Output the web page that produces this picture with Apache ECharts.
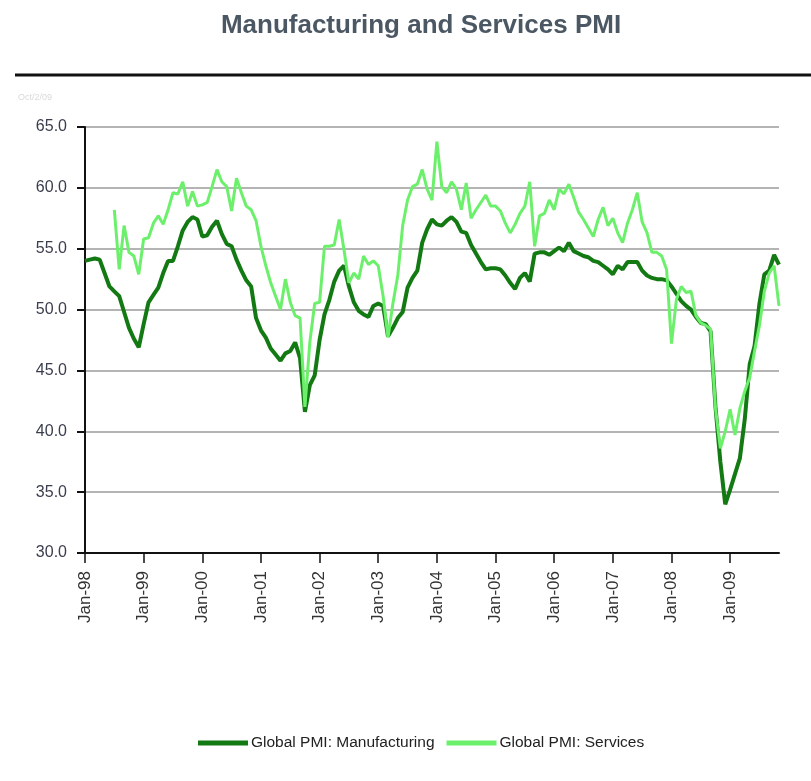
<!DOCTYPE html>
<html>
<head>
<meta charset="utf-8">
<script src="https://cdn.jsdelivr.net/npm/echarts@6/dist/echarts.min.js"></script>
<style>
html,body{margin:0;padding:0;background:#fff;}
#chart{width:811px;height:781px;}
</style>
</head>
<body>
<div id="chart"></div>
<script>
// month labels Jan-98 .. Nov-09
var years = ['98','99','00','01','02','03','04','05','06','07','08','09'];
var monthNames = ['Jan','Feb','Mar','Apr','May','Jun','Jul','Aug','Sep','Oct','Nov','Dec'];
var lastMonthCount = 11; // data stops in Nov-09

var manufacturing = [
	54.0,54.1,54.2,54.1,53.0,51.9,51.5,51.1,49.8,48.5,47.6,46.9,
	48.8,50.6,51.2,51.8,53.0,54.0,54.0,55.2,56.5,57.2,57.6,57.4,
	56.0,56.1,56.8,57.3,56.2,55.4,55.2,54.1,53.2,52.4,51.9,49.3,
	48.3,47.7,46.8,46.3,45.8,46.4,46.6,47.3,46.0,41.6,43.8,44.6,
	47.5,49.6,50.8,52.3,53.2,53.6,51.9,50.6,49.9,49.6,49.4,50.3,
	50.5,50.3,47.8,48.5,49.3,49.8,51.8,52.6,53.2,55.5,56.6,57.4,
	57.0,56.9,57.3,57.6,57.2,56.4,56.3,55.3,54.6,53.9,53.3,53.4,
	53.4,53.3,52.8,52.2,51.7,52.6,53.0,52.3,54.6,54.7,54.7,54.5,
	54.8,55.1,54.8,55.5,54.8,54.6,54.4,54.3,54.0,53.9,53.6,53.3,
	52.9,53.6,53.3,53.9,53.9,53.9,53.2,52.8,52.6,52.5,52.5,52.4,
	51.9,51.3,50.7,50.3,50.0,49.4,48.9,48.8,48.2,42.0,37.5,34.0,
	35.2,36.5,37.8,41.0,45.5,47.0,50.5,52.9,53.2,54.5,53.7
];

var services = [
	null,null,null,null,null,null,58.2,53.3,56.9,54.7,54.4,52.9,
	55.8,55.9,57.1,57.7,57.0,58.2,59.6,59.5,60.5,58.5,59.7,58.5,
	58.6,58.8,60.1,61.5,60.5,60.1,58.1,60.8,59.6,58.5,58.2,57.3,
	55.2,53.6,52.2,51.1,50.0,52.5,50.6,49.5,49.3,42.0,47.3,50.5,
	50.6,55.2,55.2,55.3,57.4,54.9,52.2,53.0,52.5,54.4,53.7,54.0,
	53.6,51.1,47.7,50.5,52.8,56.9,59.0,60.1,60.3,61.5,59.9,59.0,
	63.8,60.1,59.6,60.5,59.9,58.2,60.4,57.5,58.2,58.8,59.4,58.5,
	58.5,58.1,57.1,56.3,57.0,57.9,58.5,60.5,55.2,57.7,57.9,59.0,
	58.2,59.9,59.5,60.3,59.2,58.0,57.4,56.7,56.0,57.4,58.4,56.9,
	57.5,56.3,55.5,57.1,58.2,59.6,57.2,56.3,54.7,54.7,54.4,53.3,
	47.2,50.8,51.9,51.4,51.5,49.5,48.9,48.7,48.4,41.9,38.6,40.0,
	41.8,39.7,41.9,43.3,44.4,46.6,48.7,51.5,53.0,53.6,50.3
];

var yTicks = [30, 65, 5]; // min, max, step

var categories = [];
for (var y = 0; y < years.length; y++) {
	var n = (y === years.length - 1) ? lastMonthCount : 12;
	for (var m = 0; m < n; m++) {
		categories.push(monthNames[m] + '-' + years[y]);
	}
}

function isJan(idx) {
	return idx % 12 === 0;
}

var sans = '"Liberation Sans", Arial, sans-serif';

var myChart = echarts.init(document.getElementById('chart'));
var option = {
	backgroundColor: '#fff',
	animation: false,
	title: {
		text: 'Manufacturing and Services PMI',
		left: 416,
		textAlign: 'center',
		top: 8,
		textStyle: {
			fontFamily: sans,
			fontWeight: 'bold',
			fontSize: 26,
			color: '#4b5763'
		}
	},
	graphic: [
		{
			type: 'line',
			shape: {x1: 15, y1: 75, x2: 811, y2: 75},
			style: {stroke: '#111', lineWidth: 3}
		},
		{
			type: 'text',
			left: 18,
			top: 93,
			style: {text: 'Oct/2/09', fill: '#dadada', fontSize: 9, fontFamily: sans}
		}
	],
	legend: {
		bottom: 25,
		left: 193,
		itemWidth: 50,
		itemHeight: 5,
		itemGap: 12,
		icon: 'rect',
		textStyle: {
			fontFamily: sans,
			fontSize: 15.5,
			color: '#222',
			padding: [0, 0, 0, -2]
		},
		data: ['Global PMI: Manufacturing', 'Global PMI: Services']
	},
	grid: {
		left: 85,
		right: 32,
		top: 127,
		bottom: 228
	},
	xAxis: {
		type: 'category',
		data: categories,
		boundaryGap: false,
		axisLine: {lineStyle: {color: '#111', width: 2}},
		axisTick: {
			length: 10,
			interval: function (idx) { return isJan(idx); },
			lineStyle: {color: '#111', width: 1.5}
		},
		axisLabel: {
			rotate: 90,
			margin: 18,
			interval: function (idx) { return isJan(idx); },
			fontFamily: sans,
			fontSize: 17,
			color: '#333'
		},
		splitLine: {show: false}
	},
	yAxis: {
		type: 'value',
		min: yTicks[0],
		max: yTicks[1],
		interval: yTicks[2],
		axisLine: {show: true, lineStyle: {color: '#111', width: 2}},
		axisTick: {show: true, length: 8, lineStyle: {color: '#111', width: 2}},
		axisLabel: {
			margin: 18,
			fontFamily: sans,
			fontSize: 16,
			color: '#3a3d4d',
			formatter: function (v) { return v.toFixed(1); }
		},
		splitLine: {lineStyle: {color: '#b4b4b4', width: 2}}
	},
	series: [
		{
			name: 'Global PMI: Manufacturing',
			type: 'line',
			data: manufacturing,
			showSymbol: false,
			symbol: 'none',
			color: '#137a13',
			lineStyle: {width: 4, color: '#137a13'}
		},
		{
			name: 'Global PMI: Services',
			type: 'line',
			data: services,
			showSymbol: false,
			symbol: 'none',
			color: '#6cf06c',
			lineStyle: {width: 3, color: '#6cf06c'}
		}
	]
};
myChart.setOption(option);
</script>
</body>
</html>
